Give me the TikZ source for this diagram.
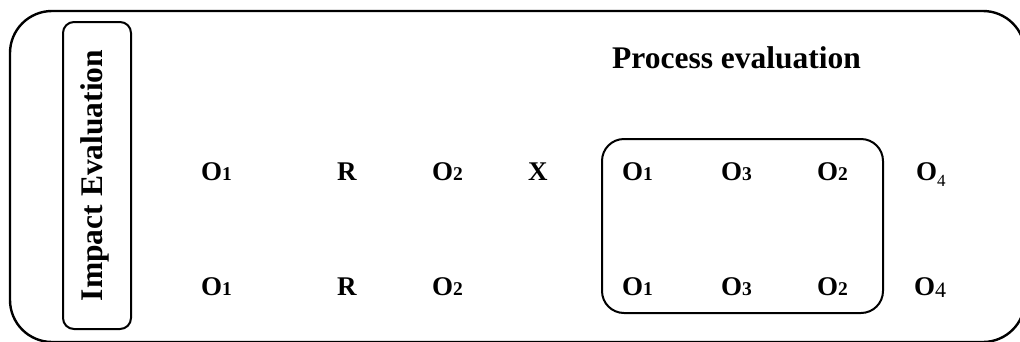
\documentclass[tikz,border=0pt]{standalone}
\usepackage{fontspec}
\setmainfont{Liberation Serif}
\begin{document}
\begin{tikzpicture}[x=1pt,y=-1pt,
  frame/.style={draw=black,line width=2.4pt},
  item/.style={inner sep=0pt,anchor=base west,font=\fontsize{27}{30}\selectfont\bfseries},
  heading/.style={inner sep=0pt,font=\fontsize{31.5}{34}\selectfont\bfseries}]
\newcommand\dg[1]{{\fontsize{19.5}{21}\selectfont #1}}
\useasboundingbox (0,0) rectangle (1020,341);
\clip (0,0) rectangle (1020,341);
% outer frame
\draw[frame,rounded corners=42pt] (10,11) rectangle (1025,342);
% impact box
\node[frame,line width=2pt,rounded corners=11pt,minimum width=68pt,minimum height=307pt,inner sep=0pt] (impact) at (97,175.5) {};
\node[heading,rotate=90] (impacttext) at (95,175.5) {Impact Evaluation};
% process box
\node[frame,line width=2pt,rounded corners=22pt,minimum width=281pt,minimum height=174pt,inner sep=0pt] (process) at (742.5,226) {};
\node[heading,anchor=base west] (proctext) at (612,68) {Process evaluation};
% row 1
\node[item] (a1) at (201,180) {O\dg{1}};
\node[item] (a2) at (337,180) {R};
\node[item] (a3) at (432,180) {O\dg{2}};
\node[item] (a4) at (528,180) {X};
\node[item] (a5) at (622,180) {O\dg{1}};
\node[item] (a6) at (721,180) {O\dg{3}};
\node[item] (a7) at (817,180) {O\dg{2}};
\node[item] (a8) at (916,180) {O\raisebox{-6pt}{\fontsize{17}{18}\selectfont\mdseries 4}};
% row 2
\node[item] (b1) at (201,295) {O\dg{1}};
\node[item] (b2) at (337,295) {R};
\node[item] (b3) at (432,295) {O\dg{2}};
\node[item] (b5) at (622,295) {O\dg{1}};
\node[item] (b6) at (721,295) {O\dg{3}};
\node[item] (b7) at (817,295) {O\dg{2}};
\node[item] (b8) at (914,295) {O\raisebox{-2pt}{\fontsize{22}{23}\selectfont\mdseries 4}};
\end{tikzpicture}
\end{document}
